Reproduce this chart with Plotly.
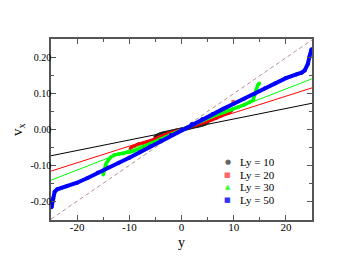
import plotly.graph_objects as go

# ---- data ----
ly_labels = ["Ly = 10", "Ly = 20", "Ly = 30", "Ly = 50"]
colors = ["#222222", "#ff0000", "#00ff00", "#0000ff"]
legend_colors = ["#666666", "#ff6666", "#33ff33", "#3333ff"]
legend_symbols = ["●", "■", "▲", "■"]

x10 = [-5.0, -4.5, -4.0, -3.5, -3.0, -2.5, -2.0, -1.5, -1.0, -0.5, 0.0,
       0.5, 1.0, 1.5, 2.0, 2.5, 3.0, 3.5, 4.0, 4.5, 5.0]
y10 = [-0.021, -0.016, -0.013, -0.011, -0.009, -0.008, -0.006, -0.005, -0.003, -0.0015, 0.0,
       0.0015, 0.003, 0.005, 0.006, 0.008, 0.009, 0.011, 0.013, 0.016, 0.021]

x20 = [-9.8, -9.5, -9.0, -8.3, -7.3, -6.4, -5.4, -4.5, -3.5, -2.5, -1.5, 0.0,
       1.5, 2.9, 3.8, 4.8, 5.8, 6.7, 7.6, 8.6, 9.2, 9.6]
y20 = [-0.052, -0.048, -0.045, -0.040, -0.037, -0.033, -0.029, -0.022, -0.015, -0.010, -0.006, 0.0,
       0.006, 0.012, 0.016, 0.021, 0.026, 0.031, 0.037, 0.044, 0.047, 0.052]
x20_edge = [-10.0, 9.9]
y20_edge = [-0.077, 0.077]

x30 = [-15.0, -14.8, -14.5, -14.0, -13.5, -12.8, -12.0, -11.2, -10.0, -9.3, -8.0, -6.0, -4.0, -2.0, 0.0,
       2.0, 4.0, 6.0, 8.0, 10.0, 11.1, 12.0, 13.1, 13.7, 14.0, 14.3, 14.6, 14.9]
y30 = [-0.125, -0.110, -0.096, -0.084, -0.076, -0.070, -0.068, -0.066, -0.063, -0.060, -0.052, -0.039, -0.026, -0.013, 0.0,
       0.013, 0.025, 0.037, 0.047, 0.057, 0.063, 0.068, 0.076, 0.081, 0.095, 0.110, 0.122, 0.128]

x50 = [-24.9, -24.6, -24.3, -23.8, -23.0, -22.0, -20.0, -18.0, -16.0, -14.0, -12.0, -10.0, -8.0, -6.0, -4.0, -2.0, 0.0,
       2.0, 4.0, 6.0, 8.0, 10.0, 12.0, 14.0, 16.0, 18.0, 20.0, 22.0, 23.0, 23.6, 24.2, 24.5, 24.9]
y50 = [-0.215, -0.190, -0.172, -0.165, -0.161, -0.157, -0.147, -0.134, -0.119, -0.105, -0.092, -0.078, -0.063, -0.047, -0.031, -0.015, 0.0,
       0.015, 0.029, 0.043, 0.057, 0.071, 0.085, 0.099, 0.114, 0.128, 0.142, 0.152, 0.157, 0.163, 0.181, 0.200, 0.222]

fit_slopes = [0.0029, 0.0046, 0.0056]
fit_colors = ["#000000", "#ff0000", "#00ff00"]
ref_slope = 0.0099
fit_x = [-25, 25]

x_ticks = [-20, -10, 0, 10, 20]
x_ticktext = ["-20", "-10", "0", "10", "20"]
y_ticks = [-0.2, -0.1, 0.0, 0.1, 0.2]
y_ticktext = ["-0.20", "-0.10", "0.00", "0.10", "0.20"]
x_title = "y"
y_title = "v<sub>x</sub>"

FONT = "Liberation Serif, Times New Roman, serif"

fig = go.Figure()

# fitted straight lines
for s, c in zip(fit_slopes, fit_colors):
    fig.add_trace(go.Scatter(x=fit_x, y=[s * v for v in fit_x], mode="lines",
                             line=dict(color=c, width=1), showlegend=False, hoverinfo="skip"))
fig.add_trace(go.Scatter(x=fit_x, y=[ref_slope * v for v in fit_x], mode="lines",
                         line=dict(color="#bc8f8f", width=1, dash="4px,3px"),
                         showlegend=False, hoverinfo="skip"))

# simulation data
series = [(x10, y10), (x20, y20), (x30, y30), (x50, y50)]
widths = [4, 3, 3.5, 4]
for i, ((xs, ys), c, w, name) in enumerate(zip(series, colors, widths, ly_labels)):
    fig.add_trace(go.Scatter(x=xs, y=ys, mode="lines+markers", name=name,
                             line=dict(color=c, width=w),
                             marker=dict(color=c, size=w),
                             showlegend=False))
    if i == 1:
        fig.add_trace(go.Scatter(x=x20_edge, y=y20_edge, mode="markers", name=name,
                                 marker=dict(color="#ff5050", size=3.5, symbol="square"),
                                 showlegend=False))

# hand-made legend (tight row spacing as in the reference)
ann = []
row_y = [0.319, 0.250, 0.182, 0.112]
for lab, sym, c, yy in zip(ly_labels, legend_symbols, legend_colors, row_y):
    ann.append(dict(xref="paper", yref="paper", x=0.678, y=yy, text=sym, showarrow=False,
                    xanchor="center", yanchor="middle",
                    font=dict(family="DejaVu Sans", size=7, color=c)))
    ann.append(dict(xref="paper", yref="paper", x=0.716, y=yy, text=lab, showarrow=False,
                    xanchor="left", yanchor="middle",
                    font=dict(family=FONT, size=11, color="black")))
# x-axis title placed close to the tick labels as in the reference
ann.append(dict(xref="paper", yref="paper", x=0.5, y=-0.079, text=x_title, showarrow=False,
                xanchor="center", yanchor="top", borderpad=0,
                font=dict(family=FONT, size=14, color="black")))

axis_common = dict(showline=True, linecolor="#555555", linewidth=1.5, mirror="allticks",
                   ticks="inside", ticklen=5, tickwidth=1, tickcolor="#555555",
                   showgrid=False, zeroline=False)

fig.update_layout(
    width=339, height=260,
    margin=dict(l=51, r=27, t=39, b=40),
    paper_bgcolor="white", plot_bgcolor="white",
    font=dict(family=FONT, color="black"),
    annotations=ann,
    xaxis=dict(range=[-25, 25], tickmode="array", tickvals=x_ticks, ticktext=x_ticktext,
               tickfont=dict(family=FONT, size=11), ticklabelstandoff=-4,
               minor=dict(tickmode="linear", tick0=0, dtick=5, ticklen=3, ticks="inside",
                          tickcolor="#555555"),
               **axis_common),
    yaxis=dict(range=[-0.25, 0.25], tickmode="array", tickvals=y_ticks, ticktext=y_ticktext,
               tickfont=dict(family=FONT, size=10), ticklabelstandoff=-4,
               minor=dict(tickmode="linear", tick0=0, dtick=0.05, ticklen=3, ticks="inside",
                          tickcolor="#555555"),
               title=dict(text=y_title, font=dict(family=FONT, size=15), standoff=4),
               **axis_common),
)

fig.write_html("out.html", config={"displayModeBar": False},
               post_script="document.body.style.margin='0px';")
